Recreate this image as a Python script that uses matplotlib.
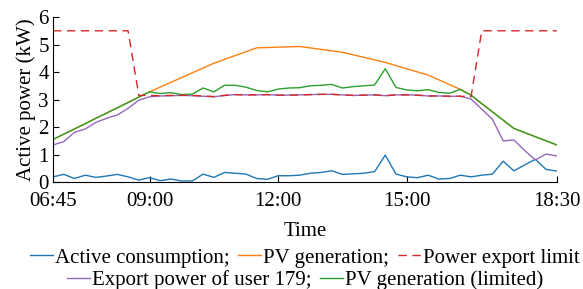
import numpy as np
import matplotlib
matplotlib.use("Agg")
import matplotlib.pyplot as plt

plt.rcParams["font.family"] = ["Liberation Serif", "DejaVu Serif"]
plt.rcParams["font.size"] = 15

# time grid in minutes after midnight, 15 min steps from 06:45 to 18:30
t = np.arange(405, 1111, 15)

consumption = [0.19, 0.28, 0.13, 0.25, 0.17, 0.22, 0.28, 0.19, 0.07, 0.16,
               0.05, 0.11, 0.04, 0.04, 0.29, 0.17, 0.35, 0.32, 0.29, 0.13,
               0.10, 0.23, 0.23, 0.25, 0.32, 0.35, 0.41, 0.28, 0.30, 0.32,
               0.38, 0.98, 0.29, 0.19, 0.16, 0.25, 0.11, 0.13, 0.25, 0.19,
               0.25, 0.29, 0.76, 0.41, 0.62, 0.83, 0.46, 0.40]

# PV generation read at its kink points
pv_t = [405, 540, 630, 690, 750, 810, 870, 930, 975, 990, 1050, 1110]
pv = [1.55, 3.28, 4.32, 4.88, 4.93, 4.72, 4.35, 3.89, 3.37, 3.16, 1.95, 1.35]

export_limit = [5.5, 5.5, 5.5, 5.5, 5.5, 5.5, 5.5, 5.5, 3.15, 3.15,
                3.14, 3.15, 3.16, 3.15, 3.13, 3.11, 3.15, 3.18, 3.17, 3.17,
                3.18, 3.16, 3.16, 3.17, 3.18, 3.19, 3.19, 3.17, 3.15, 3.16,
                3.17, 3.14, 3.17, 3.17, 3.16, 3.13, 3.13, 3.12, 3.12, 3.10,
                5.5, 5.5, 5.5, 5.5, 5.5, 5.5, 5.5, 5.5]

export_user = [1.35, 1.47, 1.81, 1.93, 2.17, 2.32, 2.44, 2.68, 2.98, 3.10,
               3.13, 3.14, 3.15, 3.14, 3.12, 3.10, 3.15, 3.18, 3.17, 3.17,
               3.18, 3.16, 3.16, 3.17, 3.18, 3.19, 3.19, 3.17, 3.15, 3.16,
               3.17, 3.14, 3.17, 3.17, 3.16, 3.13, 3.13, 3.12, 3.12, 3.02,
               2.65, 2.28, 1.50, 1.53, 1.15, 0.80, 1.02, 0.95]

pv_limited = [1.55, 1.74, 1.93, 2.12, 2.32, 2.51, 2.70, 2.89, 3.09, 3.28,
              3.22, 3.25, 3.18, 3.20, 3.42, 3.28, 3.52, 3.52, 3.45, 3.33,
              3.28, 3.38, 3.42, 3.43, 3.50, 3.52, 3.55, 3.42, 3.47, 3.50,
              3.53, 4.12, 3.44, 3.35, 3.32, 3.36, 3.26, 3.23, 3.37, 3.16,
              2.85, 2.55, 2.25, 1.95, 1.80, 1.65, 1.50, 1.35]

xticks = [405, 540, 720, 900, 1110]
xticklabels = ["06:45", "09:00", "12:00", "15:00", "18:30"]

fig = plt.figure(figsize=(5.83, 2.89), dpi=100)
ax = fig.add_axes([0.091, 0.370, 0.864, 0.571])

l1, = ax.plot(t, consumption, color="#1f77b4", lw=1.0)
l2, = ax.plot(pv_t, pv, color="#ff7f0e", lw=1.0)
l4, = ax.plot(t, export_user, color="#9467bd", lw=1.0)
l5, = ax.plot(t, pv_limited, color="#2ca02c", lw=1.0)
l3, = ax.plot(t, export_limit, color="#d62728", lw=1.0, ls=(0, (6, 4)))

ax.set_xlim(405, 1110)
ax.set_ylim(0, 6)
ax.set_xticks(xticks)
ax.set_xticklabels(xticklabels)
ax.set_yticks(range(7))
ax.tick_params(direction="in", length=4)
ax.tick_params(axis="x", pad=7)
ax.tick_params(axis="y", pad=3)
ax.spines["top"].set_visible(False)
ax.spines["right"].set_visible(False)
ax.set_xlabel("Time", labelpad=8)
ax.set_ylabel("Active power (kW)", labelpad=2)

leg_kw = dict(frameon=False, handlelength=1.1, handletextpad=0.1,
              columnspacing=0.4, borderaxespad=0, borderpad=0)
fig.legend([l1, l2, l3],
           ["Active consumption;", "PV generation;", "Power export limit"],
           ncol=3, loc="center", bbox_to_anchor=(0.523, 0.108), **leg_kw)
fig.legend([l4, l5], ["Export power of user 179;", "PV generation (limited)"],
           ncol=2, loc="center", bbox_to_anchor=(0.523, 0.030), **leg_kw)

fig.savefig("out.png", dpi=100)
